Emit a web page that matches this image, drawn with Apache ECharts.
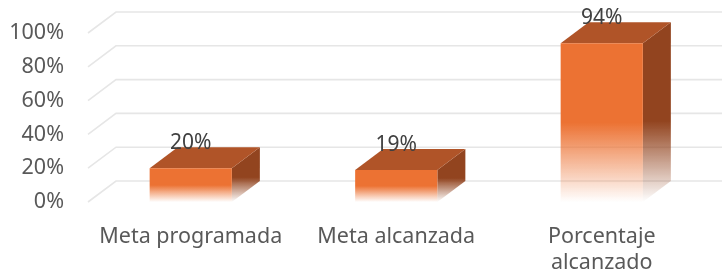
<!DOCTYPE html>
<html>
<head>
<meta charset="utf-8">
<script src="https://cdn.jsdelivr.net/npm/echarts@6/dist/echarts.min.js"></script>
<style>
  html, body { margin: 0; padding: 0; background: #fff; }
  #chart { width: 722px; height: 276px; }
</style>
</head>
<body>
<div id="chart"></div>
<script>
// data
const categories = ['Meta programada', 'Meta alcanzada', 'Porcentaje\nalcanzado'];
const values = [20, 19, 94];
const yTicks = [0, 20, 40, 60, 80, 100];

// depth of the fake 3d
const DX = 28, DY = -21;
const FONT = '"Noto Sans", sans-serif';

const chart = echarts.init(document.getElementById('chart'));

// grid lines: side wall diagonal + back wall horizontal
function renderWall(params, api) {
  const v = api.value(1);
  const p = api.coord([0, v]);
  const left = p[0] - api.size([1, 0])[0] / 2;
  return {
    type: 'polyline',
    shape: { points: [[left, p[1]], [left + DX, p[1] + DY], [api.getWidth(), p[1] + DY]] },
    style: { stroke: '#E6E6E6', lineWidth: 1.6, fill: null }
  };
}

function renderBar(params, api) {
  const x = api.value(0), v = api.value(1);
  const top = api.coord([x, v]);
  const base = api.coord([x, 0]);
  const bw = api.size([1, 0])[0] * 0.4;
  const x0 = top[0] - bw / 2, x1 = x0 + bw;
  const ty = top[1], by = base[1];
  return {
    type: 'group',
    children: [
      {
        type: 'polygon',
        shape: { points: [[x1, ty], [x1 + DX, ty + DY], [x1 + DX, by + DY], [x1, by]] },
        style: {
          fill: new echarts.graphic.LinearGradient(0, 0, 0, 1, [
            { offset: 0, color: '#92441F' },
            { offset: 0.55, color: '#92441F' },
            { offset: 1, color: 'rgba(146,68,31,0)' }
          ])
        }
      },
      {
        type: 'polygon',
        shape: { points: [[x0, ty], [x0 + DX, ty + DY], [x1 + DX, ty + DY], [x1, ty]] },
        style: { fill: '#B05428' }
      },
      {
        type: 'rect',
        shape: { x: x0, y: ty, width: bw, height: by - ty },
        style: {
          fill: new echarts.graphic.LinearGradient(0, 0, 0, 1, [
            { offset: 0, color: '#EC7233' },
            { offset: 0.5, color: '#EC7233' },
            { offset: 1, color: 'rgba(236,114,51,0)' }
          ])
        }
      },
      {
        type: 'text',
        style: {
          text: v + '%', x: top[0], y: ty - 25,
          align: 'center', verticalAlign: 'middle',
          fill: '#404040', font: '21px ' + FONT
        }
      }
    ]
  };
}

chart.setOption({
  animation: false,
  grid: { left: 88, right: 17.5, top: 33, bottom: 73 },
  xAxis: {
    type: 'category',
    data: categories,
    axisLine: { show: false },
    axisTick: { show: false },
    axisLabel: { color: '#595959', fontSize: 21.5, fontFamily: FONT, margin: 22, lineHeight: 26, interval: 0 }
  },
  yAxis: {
    type: 'value',
    min: 0, max: 100, interval: 20,
    splitLine: { show: false },
    axisLabel: {
      color: '#595959', fontSize: 21.5, fontFamily: FONT, margin: 24,
      padding: [5, 0, 0, 0], formatter: '{value}%'
    }
  },
  series: [
    {
      type: 'custom',
      z: 1,
      silent: true,
      clip: false,
      renderItem: renderWall,
      data: yTicks.map(t => [0, t])
    },
    {
      type: 'custom',
      z: 2,
      clip: false,
      renderItem: renderBar,
      data: values.map((v, i) => [i, v])
    }
  ]
});
</script>
</body>
</html>
